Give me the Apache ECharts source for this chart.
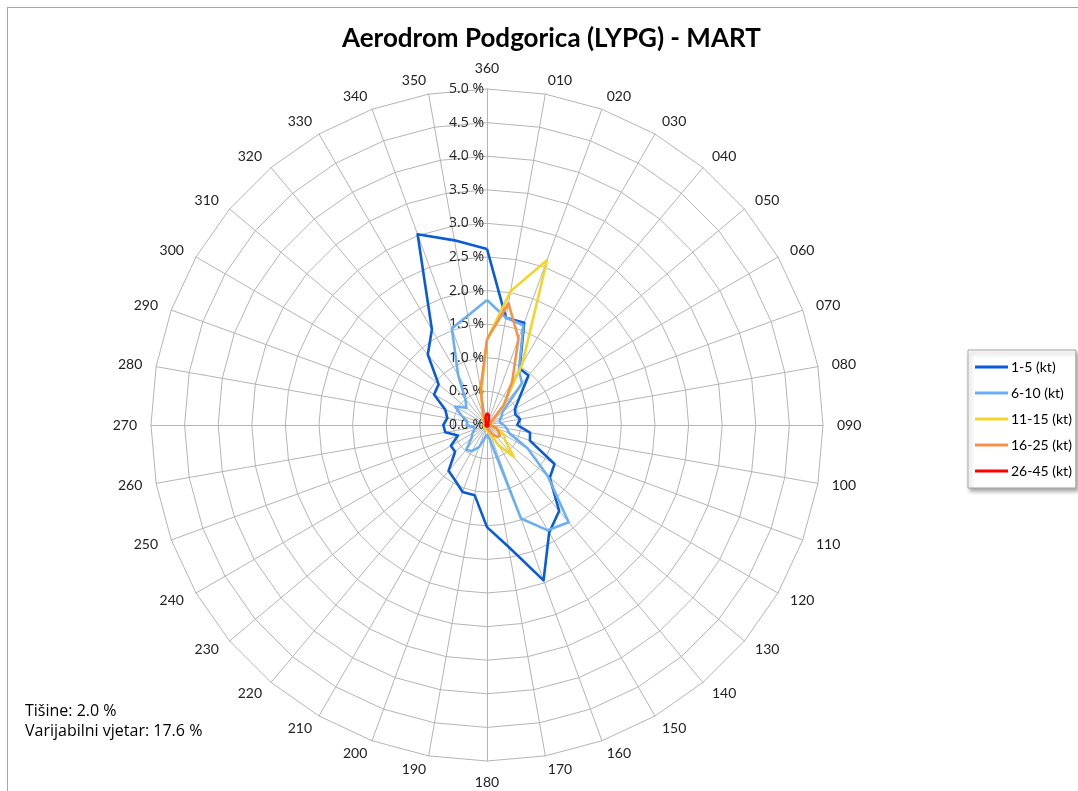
<!DOCTYPE html>
<html>
<head>
<meta charset="utf-8">
<title>Aerodrom Podgorica (LYPG) - MART</title>
<script src="https://cdn.jsdelivr.net/npm/echarts@6/dist/echarts.min.js"></script>
<style>
  html, body { margin: 0; padding: 0; background: #fff; }
  #frame { position: absolute; left: 7px; top: 7px; width: 1100px; height: 800px; border-left: 1px solid #a6a6a6; border-top: 1px solid #a6a6a6; }
  #chart { position: absolute; left: 0; top: 0; width: 1078px; height: 791px; }
</style>
</head>
<body>
<div id="frame"></div>
<div id="chart"></div>
<script>
// smjerovi vjetra (stepeni), 360 na vrhu, u smjeru kazaljke
const directions = ['360', '010', '020', '030', '040', '050', '060', '070', '080', '090',
  '100', '110', '120', '130', '140', '150', '160', '170', '180', '190',
  '200', '210', '220', '230', '240', '250', '260', '270', '280', '290',
  '300', '310', '320', '330', '340', '350'];

const seriesNames = ['1-5 (kt)', '6-10 (kt)', '11-15 (kt)', '16-25 (kt)', '26-45 (kt)'];
const seriesColors = ['#0a5bd8', '#6aaef3', '#f2d42a', '#f5924a', '#ff0000'];

// procenti po smjeru, redom 360, 010, ... 350
const speed1to5 = [2.62, 1.62, 1.62, 0.97, 0.96, 0.63, 0.48, 0.45, 0.5, 0.45,
  0.65, 0.68, 1.16, 1.22, 1.67, 1.85, 2.46, 1.84, 1.52, 1.06,
  1.06, 0.95, 0.89, 0.62, 0.62, 0.46, 0.63, 0.65, 0.6, 0.66,
  0.91, 0.94, 1.37, 1.64, 3.02, 2.79];
const speed6to10 = [1.86, 1.62, 1.58, 0.95, 0.81, 0.3, 0.25, 0.2, 0.2, 0.25,
  0.3, 0.35, 0.7, 1.18, 1.89, 1.81, 1.48, 0.2, 0.15, 0.2,
  0.35, 0.45, 0.48, 0.3, 0.25, 0.2, 0.2, 0.3, 0.3, 0.4,
  0.55, 0.4, 0.5, 0.86, 1.53, 1.65];
const speed11to15 = [1.27, 2.02, 2.61, 1.05, 0.37, 0.1, 0.08, 0.05, 0.05, 0.05,
  0.08, 0.15, 0.3, 0.35, 0.62, 0.35, 0.15, 0.1, 0.08, 0.05,
  0.05, 0.05, 0.05, 0.05, 0.05, 0.05, 0.05, 0.05, 0.05, 0.05,
  0.05, 0.05, 0.08, 0.1, 0.2, 0.49];
const speed16to25 = [1.27, 1.84, 1.37, 0.75, 0.4, 0.1, 0.05, 0.05, 0.05, 0.05,
  0.08, 0.15, 0.2, 0.25, 0.23, 0.15, 0.08, 0.05, 0.03, 0.03,
  0.03, 0.03, 0.03, 0.03, 0.03, 0.03, 0.03, 0.03, 0.03, 0.03,
  0.03, 0.03, 0.05, 0.08, 0.15, 0.55];
const speed26to45 = [0.18, 0.15, 0.08, 0.03, 0.02, 0.02, 0.02, 0.02, 0.02, 0.02,
  0.02, 0.02, 0.02, 0.02, 0.02, 0.02, 0.02, 0.02, 0.02, 0.02,
  0.02, 0.02, 0.02, 0.02, 0.02, 0.02, 0.02, 0.02, 0.02, 0.02,
  0.02, 0.02, 0.02, 0.02, 0.05, 0.12];

const calmText = 'Tišine: 2.0 %';
const variableText = 'Varijabilni vjetar: 17.6 %';

const allSeries = [speed1to5, speed6to10, speed11to15, speed16to25, speed26to45];
const FONT = 'Lato, "Open Sans", sans-serif';
const WIDE_FONT = '"Open Sans", Lato, sans-serif';

// radar crta suprotno od kazaljke, pa okrecemo redoslijed
const order = directions.map((d, i) => (directions.length - i) % directions.length);

const chart = echarts.init(document.getElementById('chart'));
chart.setOption({
  animation: false,
  title: {
    text: 'Aerodrom Podgorica (LYPG) - MART',
    left: 337,
    top: 21,
    textStyle: { fontFamily: FONT, fontSize: 26, fontWeight: 'bold', color: '#000' }
  },
  legend: {
    orient: 'vertical',
    left: 968,
    top: 350,
    data: seriesNames,
    icon: 'rect',
    itemWidth: 33,
    itemHeight: 3,
    itemGap: 12,
    padding: [10, 4, 10, 7],
    backgroundColor: '#fff',
    borderColor: '#a6a6a6',
    borderWidth: 1,
    shadowColor: 'rgba(0,0,0,0.35)',
    shadowBlur: 4,
    shadowOffsetX: 2,
    shadowOffsetY: 3,
    textStyle: { fontFamily: FONT, fontSize: 14, color: '#000', padding: [0, 0, 0, -2] }
  },
  radar: {
    center: [487, 425],
    radius: 336,
    startAngle: 90,
    splitNumber: 10,
    shape: 'polygon',
    axisName: { color: '#222', fontFamily: FONT, fontSize: 14 },
    nameGap: 14,
    splitArea: { show: false },
    splitLine: { lineStyle: { color: '#b4b4b4', width: 1 } },
    axisLine: { lineStyle: { color: '#b4b4b4', width: 1 } },
    axisLabel: { show: false },
    indicator: order.map((idx, k) => ({
      name: directions[idx],
      min: 0,
      max: 5,
      axisLabel: k === 0 ? {
        show: true,
        showMinLabel: true,
        color: '#222',
        fontFamily: WIDE_FONT,
        fontSize: 14,
        margin: 3,
        formatter: v => v.toFixed(1) + ' %'
      } : { show: false }
    }))
  },
  graphic: [
    { type: 'text', left: 25, top: 703, style: { text: calmText, font: '16px ' + WIDE_FONT, fill: '#000' } },
    { type: 'text', left: 25, top: 723, style: { text: variableText, font: '16px ' + WIDE_FONT, fill: '#000' } }
  ],
  series: [{
    type: 'radar',
    symbol: 'none',
    data: allSeries.map((vals, i) => ({
      name: seriesNames[i],
      value: order.map(idx => vals[idx]),
      lineStyle: { color: seriesColors[i], width: 2.6 },
      itemStyle: { color: seriesColors[i] }
    }))
  }]
});
</script>
</body>
</html>
